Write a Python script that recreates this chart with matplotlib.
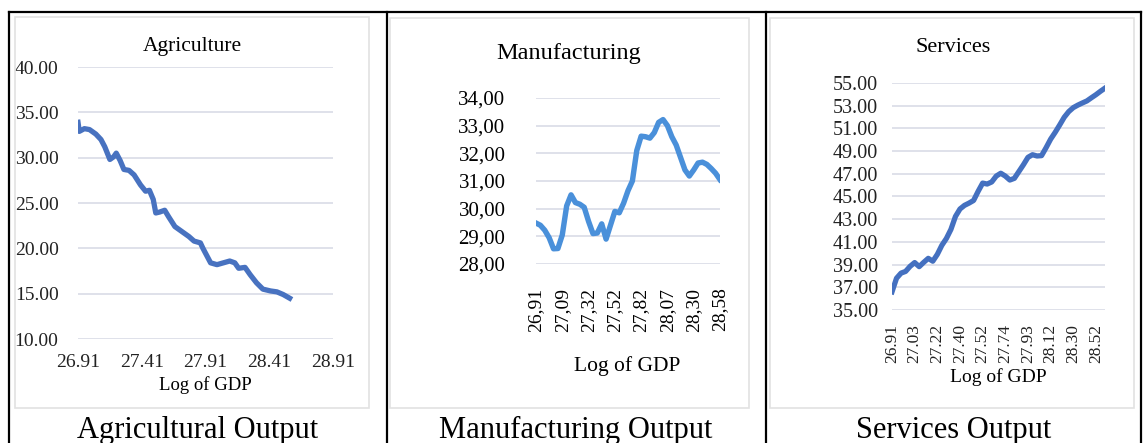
import matplotlib.pyplot as plt
from matplotlib.lines import Line2D
from matplotlib.patches import Rectangle

W, H = 1143, 443

# Agriculture: share vs log of GDP (numeric x axis)
agri_gdp = [26.91, 26.92, 26.96, 27.00, 27.05, 27.09, 27.12, 27.16, 27.19, 27.21,
            27.24, 27.27, 27.31, 27.35, 27.40, 27.44, 27.47, 27.50, 27.52, 27.55,
            27.59, 27.62, 27.67, 27.72, 27.78, 27.82, 27.87, 27.89, 27.95, 28.00,
            28.05, 28.10, 28.14, 28.17, 28.22, 28.26, 28.31, 28.36, 28.42, 28.47,
            28.52, 28.57]
agri_val = [33.9, 32.9, 33.2, 33.1, 32.6, 32.0, 31.2, 29.8, 30.1, 30.5,
            29.7, 28.7, 28.6, 28.1, 27.0, 26.3, 26.4, 25.4, 23.9, 24.0,
            24.2, 23.5, 22.4, 21.9, 21.3, 20.8, 20.6, 20.0, 18.4, 18.2,
            18.4, 18.6, 18.4, 17.8, 17.9, 17.1, 16.2, 15.5, 15.3, 15.2,
            14.9, 14.5]
agri_xticks = [26.91, 27.41, 27.91, 28.41, 28.91]
agri_yticks = [10, 15, 20, 25, 30, 35, 40]

# Manufacturing: category axis, every 6th label shown
manu_val = [29.48, 29.40, 29.22, 28.95, 28.55, 28.56, 29.05, 30.10, 30.50, 30.22,
            30.16, 30.05, 29.54, 29.10, 29.12, 29.45, 28.90, 29.40, 29.90, 29.85,
            30.20, 30.65, 31.00, 32.10, 32.62, 32.60, 32.55, 32.75, 33.12, 33.22,
            33.00, 32.60, 32.30, 31.85, 31.40, 31.18, 31.40, 31.65, 31.68, 31.60,
            31.45, 31.28, 31.05]
manu_labels = ['26,91', '27,09', '27,32', '27,52', '27,82', '28,07', '28,30', '28,58']
manu_yticks = [28, 29, 30, 31, 32, 33, 34]

# Services: category axis, every 5th label shown
serv_val = [36.60, 37.80, 38.25, 38.40, 38.85, 39.18, 38.82, 39.20, 39.55, 39.30,
            39.90, 40.70, 41.30, 42.10, 43.24, 43.90, 44.22, 44.42, 44.65, 45.45,
            46.18, 46.10, 46.28, 46.80, 47.05, 46.80, 46.45, 46.60, 47.20, 47.80,
            48.45, 48.68, 48.57, 48.60, 49.30, 50.05, 50.65, 51.30, 51.98, 52.48,
            52.83, 53.05, 53.24, 53.42, 53.70, 53.97, 54.27, 54.55]
serv_labels = ['26.91', '27.03', '27.22', '27.40', '27.52', '27.74', '27.93',
               '28.12', '28.30', '28.52']
serv_yticks = [35, 37, 39, 41, 43, 45, 47, 49, 51, 53, 55]

captions = ['Agricultural Output', 'Manufacturing Output', 'Services Output']

plt.rcParams['font.family'] = ['Liberation Serif', 'DejaVu Serif']
GRID = '#d9dce6'


def box(x0, y0, x1, y1):
    # pixel box (top-left origin) -> figure fraction rect
    return [x0 / W, 1 - y1 / H, (x1 - x0) / W, (y1 - y0) / H]


def ftext(x, y, s, **kw):
    fig.text(x / W, 1 - y / H, s, ha='center', va='center', **kw)


def style(ax):
    for s in ax.spines.values():
        s.set_visible(False)
    ax.yaxis.grid(True, color=GRID, lw=1.2)
    ax.set_axisbelow(True)


fig = plt.figure(figsize=(W / 100, H / 100), dpi=100)

# light frames of the pasted chart images
for x0, y0, x1, y1 in [(15, 17, 369, 408), (390, 18, 749, 408), (770, 18, 1134, 408)]:
    fig.patches.append(Rectangle((x0 / W, 1 - y1 / H), (x1 - x0) / W, (y1 - y0) / H,
                                 transform=fig.transFigure, fill=False,
                                 edgecolor='#e2e2e2', lw=1.2))

# table borders
for xs, ys in [([9, 1141], [12, 12]), ([9, 9], [12, 443]), ([387, 387], [12, 443]),
               ([766, 766], [12, 443]), ([1141, 1141], [12, 443])]:
    fig.lines.append(Line2D([x / W for x in xs], [1 - y / H for y in ys],
                            transform=fig.transFigure, color='black', lw=1.6))

# Agriculture
ax1 = fig.add_axes(box(78, 67, 333, 339))
style(ax1)
ax1.plot(agri_gdp, agri_val, color='#4872c0', lw=3.8, solid_joinstyle='round')
ax1.set_xlim(26.91, 28.91)
ax1.set_ylim(10, 40)
ax1.set_xticks(agri_xticks)
ax1.set_xticklabels([f'{v:.2f}' for v in agri_xticks])
ax1.set_yticks(agri_yticks)
ax1.set_yticklabels([f'{v:.2f}' for v in agri_yticks])
ax1.tick_params(length=0, labelsize=14, colors='#222222')
ax1.tick_params(axis='y', pad=14)
ax1.tick_params(axis='x', pad=11)
ftext(192, 47, 'Agriculture', fontsize=15.5)
ftext(205, 385, 'Log of GDP', fontsize=13.5)

# Manufacturing
ax2 = fig.add_axes(box(536, 98, 720, 264))
style(ax2)
ax2.plot(range(len(manu_val)), manu_val, color='#4a90da', lw=3.9, solid_joinstyle='round')
ax2.set_xlim(0, len(manu_val) - 1)
ax2.set_ylim(28, 34)
ax2.set_xticks(range(0, len(manu_val), 6))
ax2.set_xticklabels(manu_labels, rotation=90)
ax2.set_yticks(manu_yticks)
ax2.set_yticklabels([f'{v:.2f}'.replace('.', ',') for v in manu_yticks])
ax2.tick_params(length=0, labelsize=15, colors='black')
ax2.tick_params(axis='x', labelsize=14, pad=17)
ax2.tick_params(axis='y', pad=22)
ftext(569, 53, 'Manufacturing', fontsize=17.5)
ftext(627, 366, 'Log of GDP', fontsize=15.5)

# Services
ax3 = fig.add_axes(box(892, 83, 1105, 310))
style(ax3)
ax3.plot(range(len(serv_val)), serv_val, color='#4470c0', lw=3.8, solid_joinstyle='round')
ax3.set_xlim(0, len(serv_val) - 1)
ax3.set_ylim(35, 55)
ax3.set_xticks(range(0, len(serv_val), 5))
ax3.set_xticklabels(serv_labels, rotation=90)
ax3.set_yticks(serv_yticks)
ax3.set_yticklabels([f'{v:.2f}' for v in serv_yticks])
ax3.tick_params(length=0, labelsize=14.5, colors='#222222')
ax3.tick_params(axis='x', labelsize=12.5, pad=10)
ax3.tick_params(axis='y', pad=10)
ftext(953, 48, 'Services', fontsize=16)
ftext(998, 377, 'Log of GDP', fontsize=14)

# captions under each chart
for cx, cap in zip([198, 576, 954], captions):
    fig.text(cx / W, 1 - 438 / H, cap, ha='center', va='baseline', fontsize=22)

fig.savefig('out.png', dpi=100)
